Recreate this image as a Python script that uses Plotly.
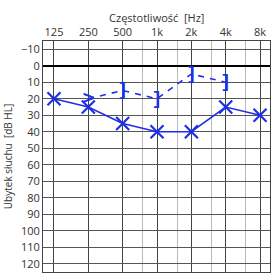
import math
import plotly.graph_objects as go

freqs = [125, 250, 500, 1000, 2000, 4000, 8000]
freq_labels = ["125", "250", "500", "1k", "2k", "4k", "8k"]
minor_freqs = [750, 1500, 3000, 6000]

ac_freqs = [125, 250, 500, 1000, 2000, 4000, 8000]
ac_levels = [20, 25, 35, 40, 40, 25, 30]

bc_freqs = [250, 500, 1000, 2000, 4000]
bc_levels = [20, 15, 20, 5, 10]
bc_symbols = [">", "]", "]", "]", "]"]

y_ticks = list(range(-10, 130, 10))

blue = "#1f2fe6"
font_family = "Open Sans, DejaVu Sans, sans-serif"

fig = go.Figure()

fig.add_trace(go.Scatter(
    x=bc_freqs, y=bc_levels, mode="lines",
    line=dict(color=blue, width=1.6, dash="6px,6px"),
    hoverinfo="skip", showlegend=False,
))
fig.add_trace(go.Scatter(
    x=bc_freqs, y=bc_levels, mode="text",
    text=["<b>" + s + "</b>" for s in bc_symbols],
    textposition="middle center",
    textfont=dict(color=blue, size=[19, 19, 19, 19, 19], family="Liberation Sans"),
    hoverinfo="skip", showlegend=False,
))
fig.add_trace(go.Scatter(
    x=ac_freqs, y=ac_levels, mode="lines+markers",
    line=dict(color=blue, width=1.6),
    marker=dict(symbol="x-thin-open", size=13, line=dict(color=blue, width=2.2)),
    hoverinfo="skip", showlegend=False,
))

lo = math.log10(125) - 0.32 * math.log10(2)
hi = math.log10(8000) + 0.29 * math.log10(2)

fig.update_layout(
    width=280, height=280,
    margin=dict(l=43, r=10, t=41, b=8),
    paper_bgcolor="white", plot_bgcolor="white",
    font=dict(family=font_family, size=11, color="#333"),
    title=dict(text="Częstotliwość  [Hz]", x=0.56, xanchor="center",
               y=0.935, yanchor="middle", font=dict(size=11, color="#333")),
    xaxis=dict(
        type="log", range=[lo, hi], side="top",
        tickmode="array", tickvals=freqs, ticktext=freq_labels,
        showgrid=True, gridcolor="#444", gridwidth=1,
        minor=dict(tickvals=minor_freqs, showgrid=True, gridcolor="#bbb", gridwidth=1, ticklen=0),
        showline=True, linecolor="#444", mirror=True, linewidth=1,
        ticks="", ticklabelstandoff=0, zeroline=False,
        tickfont=dict(size=11, color="#333"),
    ),
    yaxis=dict(
        range=[125, -15], tickmode="array", tickvals=y_ticks,
        showgrid=True, gridcolor="#555", gridwidth=1,
        zeroline=True, zerolinecolor="#000", zerolinewidth=1.8,
        showline=True, linecolor="#444", mirror=True, linewidth=1,
        ticks="", tickfont=dict(size=11, color="#333"),
        title=dict(text="Ubytek słuchu  [dB HL]", standoff=6, font=dict(size=10, color="#333")),
    ),
)

fig.write_html("out.html")
